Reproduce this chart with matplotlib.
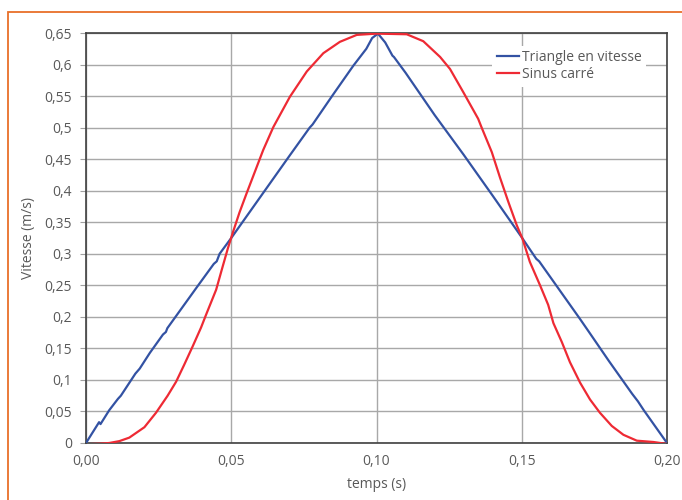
import numpy as np
import matplotlib.pyplot as plt
from matplotlib.patches import Rectangle
from matplotlib.ticker import FuncFormatter

plt.rcParams['font.family'] = ['Open Sans', 'DejaVu Sans']

# triangle en vitesse
t_tri = [0, 0.0045, 0.0050, 0.0080, 0.0110, 0.0120, 0.0170, 0.0185, 0.0220, 0.0265,
         0.0275, 0.0280, 0.0330, 0.0380, 0.0440, 0.0450, 0.0460, 0.0500, 0.0600, 0.0700,
         0.0770, 0.0780, 0.0850, 0.0920, 0.0965, 0.0985, 0.1005, 0.1030, 0.1055, 0.1060,
         0.1100, 0.1200, 0.1300, 0.1360, 0.1400, 0.1500, 0.1550, 0.1560, 0.1600, 0.1700,
         0.1730, 0.1800, 0.1880, 0.1900, 0.1920, 0.2000]
v_tri = [0, 0.033, 0.030, 0.052, 0.070, 0.075, 0.110, 0.118, 0.143, 0.172,
         0.176, 0.182, 0.214, 0.246, 0.284, 0.288, 0.300, 0.325, 0.390, 0.455,
         0.500, 0.505, 0.552, 0.598, 0.625, 0.642, 0.649, 0.635, 0.614, 0.612,
         0.587, 0.520, 0.457, 0.418, 0.392, 0.326, 0.292, 0.288, 0.262, 0.197,
         0.177, 0.130, 0.078, 0.066, 0.052, 0.000]

# sinus carre
t_sin = [0, 0.005, 0.008, 0.0115, 0.0149, 0.0201, 0.0241, 0.0281, 0.031, 0.0338,
         0.0367, 0.0396, 0.0413, 0.0448, 0.047, 0.0488, 0.0505, 0.0528, 0.0553, 0.0610,
         0.0645, 0.0702, 0.0760, 0.0817, 0.0874, 0.0932, 0.1000, 0.1104, 0.1161, 0.1219,
         0.1253, 0.1299, 0.1350, 0.1362, 0.1397, 0.1425, 0.1454, 0.1483, 0.1502, 0.1528,
         0.1563, 0.1591, 0.1609, 0.1638, 0.1666, 0.1701, 0.1735, 0.1769, 0.1810, 0.1850,
         0.1896, 0.1953, 0.2000]
v_sin = [-0.002, -0.001, 0.000, 0.003, 0.0085, 0.025, 0.048, 0.075, 0.097, 0.124,
         0.153, 0.183, 0.203, 0.243, 0.279, 0.308, 0.333, 0.365, 0.396, 0.4645,
         0.501, 0.549, 0.589, 0.618, 0.636, 0.647, 0.649, 0.648, 0.637, 0.612,
         0.593, 0.556, 0.514, 0.500, 0.461, 0.421, 0.382, 0.345, 0.3245, 0.287,
         0.250, 0.219, 0.190, 0.160, 0.128, 0.0955, 0.069, 0.048, 0.027, 0.0130,
         0.0037, 0.0016, -0.0015]

x_ticks = [0, 0.05, 0.10, 0.15, 0.20]
y_ticks = [i * 0.05 for i in range(14)]

txt = '#595959'
fig = plt.figure(figsize=(6.82, 5.0), dpi=100)
ax = fig.add_axes([86 / 682, 57 / 500, 581 / 682, 410 / 500])

ax.plot(t_tri, v_tri, color='#3352A3', lw=1.6, label='Triangle en vitesse', zorder=3)
ax.plot(t_sin, v_sin, color='#EE2A34', lw=1.6, label='Sinus carré', zorder=3)

ax.set_xlim(0, 0.2)
ax.set_ylim(0, 0.65)
ax.set_xticks(x_ticks)
ax.set_yticks(y_ticks)
ax.xaxis.set_major_formatter(FuncFormatter(lambda v, p: f'{v:.2f}'.replace('.', ',')))
ax.yaxis.set_major_formatter(FuncFormatter(
    lambda v, p: ('%.2f' % v).rstrip('0').rstrip('.').replace('.', ',')))
ax.tick_params(axis='x', length=0, pad=8, labelsize=10, labelcolor=txt)
ax.tick_params(axis='y', length=4, color='#a0a0a0', pad=6, labelsize=10, labelcolor=txt)
ax.grid(True, color='#a8a8a8', lw=1.0)
ax.set_axisbelow(True)
for s in ax.spines.values():
    s.set_color('#404040')
    s.set_linewidth(1.2)

ax.set_xlabel('temps (s)', color=txt, fontsize=10, labelpad=6)
ax.set_ylabel('Vitesse (m/s)', color=txt, fontsize=10, labelpad=6)

leg = ax.legend(loc='upper right', bbox_to_anchor=(0.975, 0.985), frameon=True,
                fancybox=False, handlelength=1.6, handletextpad=0.2,
                labelspacing=0.15, borderpad=0.3, fontsize=10)
leg.get_frame().set_edgecolor('none')
leg.get_frame().set_facecolor('white')
leg.get_frame().set_alpha(1)
for t in leg.get_texts():
    t.set_color(txt)

fig.patches.append(Rectangle((8 / 682, -0.1), 1.2, (488 / 500) + 0.1,
                             transform=fig.transFigure, fill=False,
                             edgecolor='#E8702A', lw=1.3, clip_on=False))

fig.savefig('out.png', dpi=100)
